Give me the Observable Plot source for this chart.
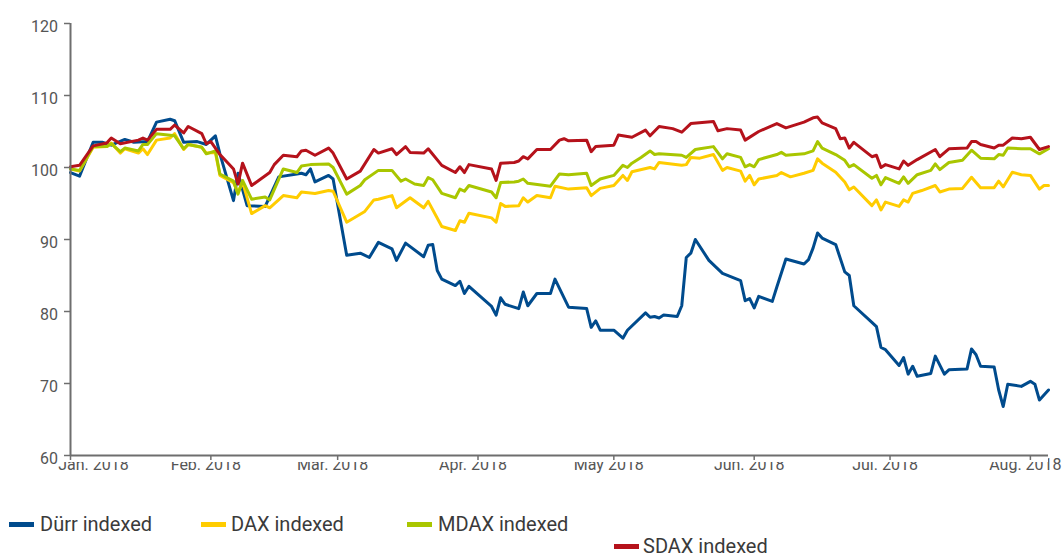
<!DOCTYPE html>
<html><head><meta charset="utf-8">
<script src="https://cdn.jsdelivr.net/npm/d3@7"></script>
<script src="https://cdn.jsdelivr.net/npm/@observablehq/plot@0.6"></script>
<style>
body{margin:0;background:#fff;font-family:Roboto,"Liberation Sans",sans-serif;}
#wrap{position:relative;width:1062px;height:560px;overflow:hidden;background:#fff;}
.lg{position:absolute;font-size:20px;line-height:20px;color:#3a3a3a;white-space:nowrap;}
.sw{position:absolute;width:25px;height:5px;}
</style></head><body><div id="wrap"></div>
<script>
const year = 2018;
const seriesNames = ["Dürr indexed","DAX indexed","MDAX indexed","SDAX indexed"];
const seriesColors = ["#004b8d","#ffcc00","#a9c600","#b5121b"];

const durr = [["01-01",99.3],["01-03",98.8],["01-06",103.5],["01-08",103.5],["01-10",103.1],["01-13",103.9],["01-15",103.5],["01-18",103.6],["01-20",106.3],["01-23",106.7],["01-24",106.5],["01-26",103.5],["01-29",103.6],["01-31",103.2],
["02-02",104.4],["02-03",101.9],["02-06",95.4],["02-07",99.2],["02-09",94.7],["02-13",94.6],["02-16",98.7],["02-20",99.1],["02-21",99.2],["02-22",99.0],["02-23",99.8],["02-24",98.0],["02-27",98.9],["02-28",98.4],
["03-03",87.8],["03-06",88.1],["03-08",87.5],["03-10",89.6],["03-13",88.7],["03-14",87.1],["03-16",89.5],["03-20",87.6],["03-21",89.2],["03-22",89.3],["03-23",85.7],["03-24",84.5],["03-27",83.6],["03-28",84.2],["03-29",82.5],["03-30",83.5],
["04-04",80.7],["04-05",79.5],["04-06",81.9],["04-07",81.0],["04-10",80.4],["04-11",82.7],["04-12",80.8],["04-14",82.5],["04-17",82.5],["04-18",84.5],["04-21",80.6],["04-25",80.4],["04-26",77.8],["04-27",78.7],["04-28",77.4],
["05-01",77.4],["05-03",76.3],["05-04",77.4],["05-08",79.8],["05-09",79.2],["05-10",79.3],["05-11",79.1],["05-12",79.5],["05-15",79.3],["05-16",80.8],["05-17",87.5],["05-18",88.1],["05-19",90.0],["05-22",87.1],["05-25",85.3],["05-29",84.3],["05-30",81.5],["05-31",81.8],
["06-01",80.5],["06-02",82.1],["06-05",81.4],["06-06",83.4],["06-08",87.3],["06-12",86.6],["06-13",87.2],["06-14",88.8],["06-15",90.9],["06-16",90.2],["06-19",89.3],["06-21",85.5],["06-22",85.0],["06-23",80.8],["06-27",78.5],["06-28",77.9],["06-29",75.0],["06-30",74.7],
["07-03",72.5],["07-04",73.6],["07-05",71.3],["07-06",72.4],["07-07",71.0],["07-10",71.4],["07-11",73.8],["07-13",71.3],["07-14",71.9],["07-18",72.0],["07-19",74.8],["07-20",74.0],["07-21",72.4],["07-24",72.3],["07-25",69.1],["07-26",66.8],["07-27",69.9],["07-30",69.6],
["08-01",70.3],["08-02",69.9],["08-03",67.7],["08-05",69.1]];

const dax = [["01-01",99.8],["01-03",99.5],["01-06",102.8],["01-09",102.9],["01-10",103.4],["01-12",102.0],["01-13",102.6],["01-16",102.0],["01-17",102.6],["01-18",101.8],["01-20",103.8],["01-23",104.1],["01-24",104.7],["01-26",102.5],["01-27",103.2],["01-30",102.8],["01-31",102.0],
["02-02",102.1],["02-03",98.9],["02-06",97.9],["02-07",96.5],["02-08",98.0],["02-10",93.6],["02-13",94.7],["02-14",94.4],["02-17",96.1],["02-20",95.8],["02-21",96.6],["02-24",96.4],["02-27",96.8],["02-28",96.7],
["03-03",92.4],["03-07",93.9],["03-09",95.5],["03-10",95.6],["03-13",96.1],["03-14",94.4],["03-17",95.8],["03-20",94.4],["03-21",95.3],["03-24",91.8],["03-27",91.25],["03-28",92.6],["03-29",92.4],["03-30",93.65],
["04-04",93.0],["04-05",92.4],["04-06",95.0],["04-07",94.6],["04-10",94.7],["04-11",95.8],["04-12",95.2],["04-14",96.1],["04-17",95.8],["04-18",97.4],["04-21",97.0],["04-25",97.2],["04-26",96.1],["04-28",97.1],
["05-01",97.5],["05-03",98.9],["05-04",98.2],["05-05",99.4],["05-09",100.0],["05-10",99.8],["05-11",100.7],["05-16",100.3],["05-17",100.4],["05-18",101.4],["05-20",101.3],["05-23",101.8],["05-25",99.6],["05-26",100.0],["05-29",99.5],["05-30",98.1],["05-31",98.9],
["06-01",97.6],["06-02",98.4],["06-06",98.9],["06-07",99.3],["06-09",98.7],["06-12",99.2],["06-14",99.6],["06-15",101.2],["06-16",100.6],["06-19",99.35],["06-21",98.0],["06-22",96.9],["06-23",97.3],["06-27",94.7],["06-28",95.5],["06-29",94.1],["06-30",95.2],
["07-03",94.6],["07-04",95.5],["07-05",95.2],["07-06",96.4],["07-08",96.8],["07-11",97.5],["07-12",96.6],["07-14",97.0],["07-17",97.1],["07-19",98.65],["07-21",97.2],["07-24",97.2],["07-25",98.1],["07-26",97.3],["07-28",99.35],["07-30",99.0],
["08-01",98.9],["08-03",97.0],["08-04",97.5],["08-05",97.5]];

const mdax = [["01-01",99.8],["01-03",99.6],["01-06",102.9],["01-09",102.9],["01-10",103.3],["01-12",102.2],["01-13",102.7],["01-16",102.3],["01-17",103.2],["01-18",103.2],["01-20",104.7],["01-24",104.4],["01-26",102.6],["01-27",103.2],["01-30",102.8],["01-31",101.9],
["02-02",102.3],["02-03",99.1],["02-06",98.1],["02-07",96.3],["02-08",98.2],["02-10",95.6],["02-13",95.9],["02-14",95.5],["02-17",99.8],["02-20",99.3],["02-21",100.2],["02-23",100.4],["02-27",100.5],["02-28",100.0],
["03-03",96.3],["03-06",97.5],["03-07",98.3],["03-10",99.6],["03-13",99.6],["03-15",98.1],["03-16",98.4],["03-18",97.7],["03-20",97.5],["03-21",98.6],["03-22",98.3],["03-24",96.4],["03-27",95.8],["03-28",97.0],["03-29",96.7],["03-30",97.5],
["04-04",96.6],["04-05",95.8],["04-06",97.9],["04-09",98.0],["04-10",98.1],["04-11",98.4],["04-12",97.8],["04-17",97.4],["04-19",99.1],["04-21",99.0],["04-25",99.2],["04-26",97.5],["04-28",98.4],
["05-01",98.9],["05-03",100.3],["05-04",100.0],["05-05",100.6],["05-07",101.4],["05-09",102.3],["05-10",101.8],["05-11",101.9],["05-16",101.7],["05-17",101.4],["05-19",102.5],["05-20",102.6],["05-23",102.9],["05-25",101.2],["05-26",101.9],["05-29",101.4],["05-30",100.1],["05-31",100.4],
["06-01",100.1],["06-02",101.1],["06-06",101.8],["06-07",102.1],["06-08",101.7],["06-12",101.9],["06-14",102.3],["06-15",103.6],["06-16",102.7],["06-19",101.8],["06-21",101.0],["06-22",100.1],["06-23",100.4],["06-27",98.5],["06-28",98.9],["06-29",97.6],["06-30",98.6],
["07-03",97.8],["07-04",98.7],["07-05",97.8],["07-07",99.0],["07-10",99.6],["07-11",100.5],["07-12",99.7],["07-14",100.7],["07-17",101.0],["07-19",102.4],["07-21",101.3],["07-24",101.2],["07-25",101.8],["07-26",101.7],["07-27",102.7],["07-30",102.6],
["08-01",102.6],["08-03",101.9],["08-05",102.6]];

const sdax = [["01-01",100.1],["01-03",100.3],["01-06",103.0],["01-09",103.4],["01-10",104.1],["01-12",103.3],["01-16",103.8],["01-17",104.1],["01-18",103.8],["01-20",105.3],["01-23",105.3],["01-24",105.9],["01-26",104.8],["01-27",105.7],["01-30",104.7],["01-31",103.3],
["02-01",103.6],["02-03",101.8],["02-06",99.8],["02-07",97.7],["02-08",100.6],["02-10",97.5],["02-14",99.3],["02-15",100.4],["02-17",101.7],["02-20",101.5],["02-21",102.3],["02-22",102.4],["02-24",101.7],["02-27",102.7],["02-28",102.0],
["03-03",98.4],["03-06",99.5],["03-09",102.5],["03-10",102.0],["03-13",102.6],["03-14",101.8],["03-16",102.9],["03-17",102.1],["03-20",102.0],["03-21",102.6],["03-24",100.3],["03-27",99.3],["03-28",100.1],["03-29",99.3],["03-30",100.4],
["04-04",99.8],["04-05",98.2],["04-06",100.6],["04-09",100.7],["04-10",100.9],["04-11",101.5],["04-12",101.2],["04-14",102.5],["04-17",102.5],["04-19",103.8],["04-20",104.0],["04-21",103.7],["04-25",103.8],["04-26",102.2],["04-27",102.9],
["05-01",103.1],["05-02",104.5],["05-05",104.2],["05-08",105.2],["05-09",104.4],["05-11",105.7],["05-14",105.4],["05-16",104.9],["05-18",106.1],["05-23",106.4],["05-24",105.1],["05-26",105.4],["05-29",105.2],["05-30",103.8],
["06-02",105.0],["06-06",106.1],["06-08",105.5],["06-12",106.3],["06-14",106.9],["06-15",107.0],["06-16",106.2],["06-19",105.4],["06-20",104.0],["06-21",104.1],["06-22",102.7],["06-23",103.5],["06-27",101.5],["06-28",101.7],["06-29",100.0],["06-30",100.4],
["07-03",99.8],["07-04",100.9],["07-05",100.3],["07-07",101.1],["07-11",102.5],["07-12",101.5],["07-14",102.6],["07-18",102.7],["07-19",103.6],["07-20",103.6],["07-21",103.2],["07-24",102.7],["07-25",103.1],["07-26",103.1],["07-28",104.1],["07-30",104.0],
["08-01",104.2],["08-03",102.5],["08-05",102.9]];

const yTicks = [60,70,80,90,100,110,120];
const xTickDates = ["2018-01-01","2018-02-01","2018-03-01","2018-04-01","2018-05-01","2018-06-01","2018-07-01","2018-08-01"];
const xTickLabels = ["Jan. 2018","Feb. 2018","Mar. 2018","Apr. 2018","May 2018","Jun. 2018","Jul. 2018","Aug. 2018"];
const xDomain = ["2018-01-01","2018-08-05"];

const utc = s => new Date(s + "T00:00:00Z");
const rows = [];
[durr, dax, mdax, sdax].forEach((s, i) => s.forEach(([md, v]) => rows.push({series: seriesNames[i], date: utc(`${year}-${md}`), value: v})));
const xt = xTickDates.map(utc);
const xd = xDomain.map(utc);
const lab = d => xTickLabels[xt.findIndex(t => +t === +d)];
const axisGray = "#6e6e6e";

const chart = Plot.plot({
  width: 1062, height: 480,
  marginLeft: 70, marginRight: 14, marginTop: 23, marginBottom: 25,
  style: {fontFamily: "Roboto, 'Liberation Sans', sans-serif", fontSize: "16px", color: "#555", background: "#fff"},
  x: {type: "utc", domain: xd},
  y: {domain: [yTicks[0], yTicks[yTicks.length - 1]]},
  color: {domain: seriesNames, range: seriesColors},
  marks: [
    Plot.line(rows, {x: "date", y: "value", z: "series", stroke: "series", strokeWidth: 3, strokeLinejoin: "round"}),
    Plot.ruleX([xd[0]], {stroke: axisGray, strokeWidth: 2}),
    Plot.ruleY([yTicks[0]], {stroke: axisGray, strokeWidth: 2}),
    Plot.axisY(yTicks, {tickSize: 6, tickFormat: () => "", label: null, stroke: axisGray, strokeWidth: 1.5}),
    Plot.axisY(yTicks, {tickSize: 0, tickPadding: 12.5, dy: 3, label: null}),
    Plot.axisX(xt, {tickSize: 5, tickFormat: () => "", label: null, stroke: axisGray, strokeWidth: 1.5}),
    Plot.axisX([xt[0]], {tickSize: 0, tickPadding: 3, tickFormat: lab, dx: 23, label: null}),
    Plot.axisX(xt.slice(1), {tickSize: 0, tickPadding: 3, tickFormat: lab, dx: -5, label: null})
  ]
});

// clip the top of the x tick labels, as in the original artwork
const ns = "http://www.w3.org/2000/svg";
const svg = d3.select(chart);
const cp = svg.insert("defs", ":first-child").append("clipPath").attr("id", "xlabclip");
cp.append("rect").attr("x", 0).attr("y", 462).attr("width", 1048).attr("height", 40);
cp.append("rect").attr("x", 1048).attr("y", 440).attr("width", 20).attr("height", 60);
svg.selectAll('g[aria-label="x-axis tick label"]').each(function() {
  const w = document.createElementNS(ns, "g");
  w.setAttribute("clip-path", "url(#xlabclip)");
  this.parentNode.insertBefore(w, this);
  w.appendChild(this);
});

const wrap = document.getElementById("wrap");
chart.style.position = "absolute"; chart.style.left = "0"; chart.style.top = "0";
wrap.appendChild(chart);

// legend
const legendLayout = [{sw: 9, tx: 40, top: 514}, {sw: 201, tx: 231, top: 514}, {sw: 407, tx: 438, top: 514}, {sw: 614, tx: 643, top: 536}];
seriesNames.forEach((name, i) => {
  const L = legendLayout[i];
  const s = document.createElement("div");
  s.className = "sw"; s.style.left = L.sw + "px"; s.style.top = (L.top + 8) + "px"; s.style.background = seriesColors[i];
  const t = document.createElement("div");
  t.className = "lg"; t.style.left = L.tx + "px"; t.style.top = L.top + "px"; t.textContent = name;
  wrap.appendChild(s); wrap.appendChild(t);
});
</script></body></html>
